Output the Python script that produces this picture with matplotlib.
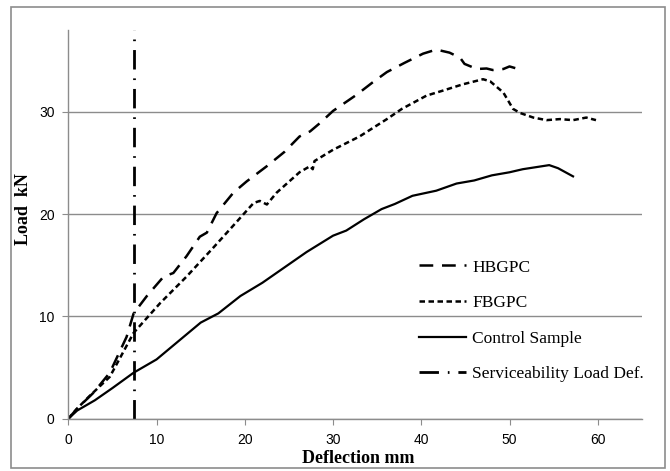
import matplotlib
matplotlib.use("Agg")
import matplotlib.pyplot as plt
import matplotlib.patches as patches

# load-deflection readings (mm, kN)
hb_x = [0, 1, 2.8, 4.7, 6.6, 7.4, 8.9, 10.8, 11.9, 13.4, 14.9, 15.7, 16.8, 18.7, 20.2, 22.5,
        24.5, 26.2, 27.4, 28.5, 30, 32.7, 34.5, 36.1, 38.1, 40.2, 41.7, 43.2, 44.4, 44.9,
        46.3, 47.4, 48.1, 49.3, 50.0, 51.0]
hb_y = [0, 1.0, 2.5, 4.5, 8.0, 10.3, 12.0, 13.9, 14.25, 15.9, 17.8, 18.2, 20.1, 22.1, 23.2, 24.7,
        26.1, 27.6, 28.1, 28.9, 30.1, 31.7, 32.9, 33.9, 34.8, 35.7, 36.1, 35.8, 35.3, 34.7,
        34.2, 34.25, 34.1, 34.2, 34.45, 34.2]

fb_x = [0, 1, 2.5, 4.7, 7.4, 10.4, 13.4, 16.4, 18.5, 21.0, 21.7, 22.5, 23.6, 26.2, 27.4, 27.7,
        27.9, 30, 33, 36.1, 37.8, 40.6, 42.5, 44.7, 47.0, 47.8, 49.3, 50.4, 51.2, 52.7, 54.2,
        55.7, 57.2, 58.7, 59.8]
fb_y = [0, 1.0, 2.3, 4.1, 8.4, 11.3, 13.9, 16.7, 18.7, 21.1, 21.3, 20.95, 22.1, 24.1, 24.7, 24.4,
        25.2, 26.3, 27.6, 29.3, 30.3, 31.6, 32.1, 32.7, 33.2, 33.0, 31.9, 30.3, 29.9, 29.45, 29.2,
        29.3, 29.2, 29.45, 29.2]

ctrl_x = [0, 1, 3, 5, 7.4, 10, 12.5, 15, 17, 19.5, 22, 25, 27, 30, 31.5, 33.5, 35.5, 37, 39,
          41.7, 44, 46, 48, 50, 51.5, 53, 54.5, 55.5, 57.2]
ctrl_y = [0, 0.8, 1.8, 3.0, 4.5, 5.8, 7.6, 9.4, 10.3, 12.0, 13.3, 15.1, 16.3, 17.9, 18.4, 19.5,
          20.5, 21.0, 21.8, 22.3, 23.0, 23.3, 23.8, 24.1, 24.4, 24.6, 24.8, 24.5, 23.7]

serv_def = 7.4
x_ticks = [0, 10, 20, 30, 40, 50, 60]
y_ticks = [0, 10, 20, 30]

serif = ['Liberation Serif', 'DejaVu Serif']
tickfont = ['Liberation Sans Narrow', 'Liberation Sans', 'DejaVu Sans']

fig = plt.figure(figsize=(6.7, 4.71), dpi=100)
ax = fig.add_axes([0.102, 0.111, 0.856, 0.825])

# chart area border
fig.patches.append(patches.Rectangle((0.017, 0.006), 0.975, 0.98, transform=fig.transFigure,
                                     fill=False, edgecolor='#8c8c8c', linewidth=1.2))

ax.plot(hb_x, hb_y, color='black', lw=1.8, linestyle=(0, (5.5, 3.5)), label='HBGPC')
ax.plot(fb_x, fb_y, color='black', lw=1.8, linestyle=(0, (2.2, 1.4)), label='FBGPC')
ax.plot(ctrl_x, ctrl_y, color='black', lw=1.6, label='Control Sample')
ax.axvline(serv_def, color='black', lw=2.0, linestyle=(0, (7, 3.2, 0.6, 3.2)),
           label='Serviceability Load Def.')

ax.set_xlim(0, 65)
ax.set_ylim(0, 38)
ax.set_xticks(x_ticks)
ax.set_yticks(y_ticks)
ax.yaxis.grid(True, color='#8c8c8c', lw=1.0)
ax.set_axisbelow(True)

for s in ['top', 'right']:
    ax.spines[s].set_visible(False)
for s in ['left', 'bottom']:
    ax.spines[s].set_color('#8c8c8c')
    ax.spines[s].set_linewidth(1.0)
ax.tick_params(axis='x', direction='out', length=4, color='#8c8c8c', pad=6)
ax.tick_params(axis='y', direction='out', length=4, color='#8c8c8c', pad=6)
for lab in ax.get_xticklabels() + ax.get_yticklabels():
    lab.set_family(tickfont)
    lab.set_fontsize(10)

ax.set_xlabel('Deflection mm', family=serif, fontsize=13, fontweight='bold')
ax.set_ylabel('Load  kN', family=serif, fontsize=13, fontweight='bold')
ax.xaxis.set_label_coords(0.505, -0.08)
ax.yaxis.set_label_coords(-0.063, 0.54)

leg = ax.legend(loc='upper left', bbox_to_anchor=(0.6, 0.428), frameon=False,
                prop={'family': serif, 'size': 12.5}, handlelength=2.7,
                handletextpad=0.35, labelspacing=1.12, borderaxespad=0)

fig.savefig('out.png', dpi=100)
